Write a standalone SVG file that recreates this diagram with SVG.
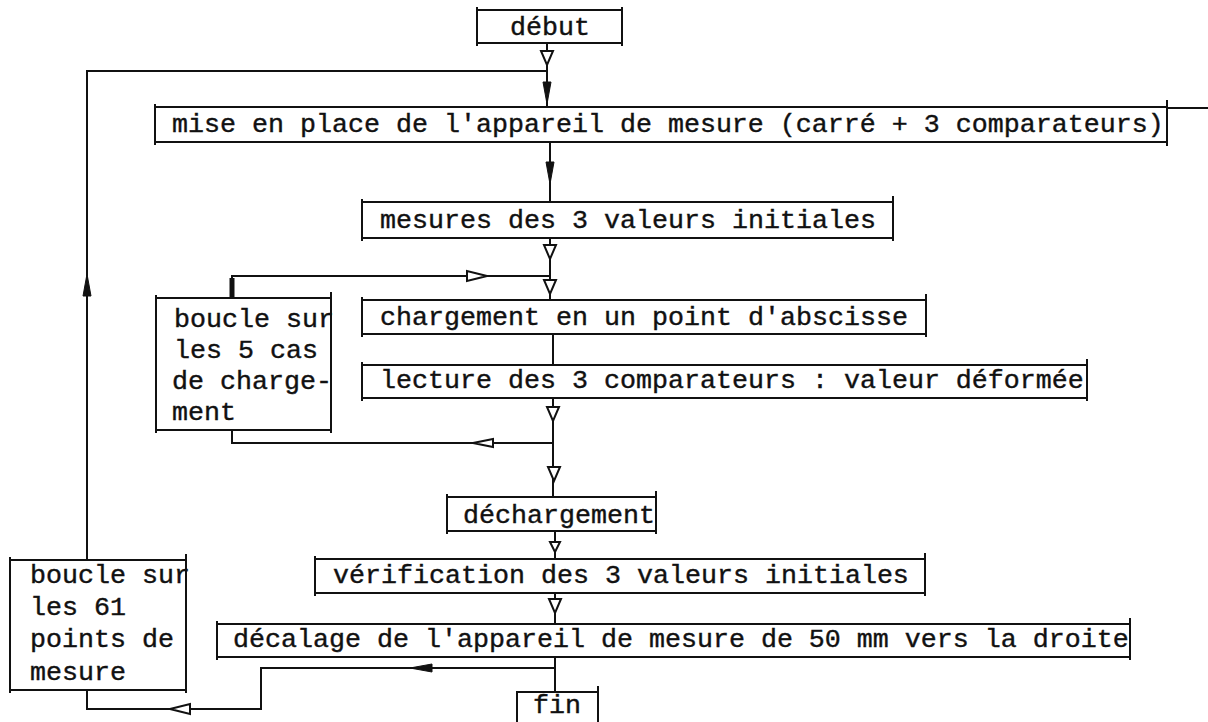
<svg xmlns="http://www.w3.org/2000/svg" width="1208" height="722" viewBox="0 0 1208 722">
<style>
.box{fill:none;stroke:#111;stroke-width:2}
.tick{fill:none;stroke:#111;stroke-width:2}
.ln{fill:none;stroke:#111;stroke-width:2}
.t{font-family:"Liberation Mono","Courier New",monospace;font-size:26.67px;fill:#111;stroke:#111;stroke-width:0.4}
.ho{fill:#fff;stroke:#111;stroke-width:2}
.fi{fill:#111;stroke:#111;stroke-width:1}
</style>
<defs>
<path id="hd" class="ho" d="M-6,-7 L6,-7 L0,7 Z"/>
<path id="fd" class="fi" d="M-4,-11 L4,-11 L0,11 Z"/>
</defs>
<rect width="1208" height="722" fill="#fff"/>

<g id="connectors">
<path class="ln" d="M547,43 V107"/>
<path class="ln" d="M87,560 V71 H547"/>
<path class="ln" d="M550,142 V202"/>
<path class="ln" d="M550,238 V300"/>
<path class="ln" d="M232,298 V276 H550"/>
<path d="M232,298 V278" stroke="#111" stroke-width="5"/>
<path class="ln" d="M553,334 V365"/>
<path class="ln" d="M553,398 V497"/>
<path class="ln" d="M553,443 H232 V430"/>
<path class="ln" d="M555,531 V559"/>
<path class="ln" d="M555,593 V624"/>
<path class="ln" d="M555,657 V692"/>
<path class="ln" d="M555,668 H261 V709 H87 V690"/>
<path class="ln" d="M1167,108 H1208"/>

<use href="#hd" x="547" y="58"/>
<use href="#fd" x="547" y="93"/>
<use href="#fd" x="550" y="173"/>
<use href="#hd" x="550" y="252"/>
<use href="#hd" x="550" y="287"/>
<path class="ho" d="M467,271 L467,281 L487,276 Z"/>
<use href="#hd" x="553" y="414"/>
<use href="#hd" x="554" y="474"/>
<path class="ho" d="M493,439 L493,447 L473,443 Z"/>
<path class="ho" d="M550,542 L560,542 L555,552 Z"/>
<use href="#hd" x="555" y="606"/>
<path class="fi" d="M432,664 L432,672 L410,668 Z"/>
<path class="ho" d="M190,704 L190,714 L170,709 Z"/>
<path class="fi" d="M83,296 L91,296 L87,274 Z"/>
</g>

<g id="n-debut">
<rect class="box" x="477" y="10" width="145" height="33"/>
<path class="tick" d="M477,7 V46 M622,7 V46"/>
<text class="t" x="510" y="35">début</text>
</g>
<g id="n-mise">
<rect class="box" x="155" y="107" width="1012" height="35"/>
<path class="tick" d="M155,104 V145 M1167,100 V146"/>
<text class="t" x="172" y="132">mise en place de l'appareil de mesure (carré + 3 comparateurs)</text>
</g>
<g id="n-mesures">
<rect class="box" x="362" y="202" width="531" height="36"/>
<path class="tick" d="M362,199 V241 M893,196 V241"/>
<text class="t" x="380" y="228">mesures des 3 valeurs initiales</text>
</g>
<g id="n-boucle5">
<rect class="box" x="156" y="298" width="175" height="132"/>
<path class="tick" d="M156,295 V433 M331,292 V433"/>
<text class="t" x="174" y="327">boucle sur</text>
<text class="t" x="174" y="358">les 5 cas</text>
<text class="t" x="172" y="389">de charge-</text>
<text class="t" x="172" y="420">  ment</text>
</g>
<g id="n-chargement">
<rect class="box" x="362" y="300" width="564" height="34"/>
<path class="tick" d="M362,297 V337 M926,294 V337"/>
<text class="t" x="380" y="325">chargement en un point d'abscisse</text>
</g>
<g id="n-lecture">
<rect class="box" x="362" y="365" width="725" height="33"/>
<path class="tick" d="M362,362 V401 M1087,359 V401"/>
<text class="t" x="380" y="388">lecture des 3 comparateurs : valeur déformée</text>
</g>
<g id="n-dechargement">
<rect class="box" x="447" y="497" width="209" height="34"/>
<path class="tick" d="M447,494 V534 M656,491 V534"/>
<text class="t" x="463" y="523">déchargement</text>
</g>
<g id="n-verification">
<rect class="box" x="315" y="559" width="610" height="34"/>
<path class="tick" d="M315,556 V596 M925,553 V596"/>
<text class="t" x="333" y="583">vérification des 3 valeurs initiales</text>
</g>
<g id="n-decalage">
<rect class="box" x="217" y="624" width="913" height="33"/>
<path class="tick" d="M217,621 V660 M1130,618 V660"/>
<text class="t" x="233" y="647">décalage de l'appareil de mesure de 50 mm vers la droite</text>
</g>
<g id="n-boucle61">
<rect class="box" x="10" y="560" width="176" height="130"/>
<path class="tick" d="M10,557 V693 M186,554 V693"/>
<text class="t" x="30" y="583">boucle sur</text>
<text class="t" x="30" y="615">les 61</text>
<text class="t" x="30" y="647">points de</text>
<text class="t" x="30" y="680">mesure</text>
</g>
<g id="n-fin">
<rect class="box" x="517" y="692" width="81" height="50"/>
<path class="tick" d="M598,686 V722"/>
<text class="t" x="533" y="713">fin</text>
</g>
</svg>
